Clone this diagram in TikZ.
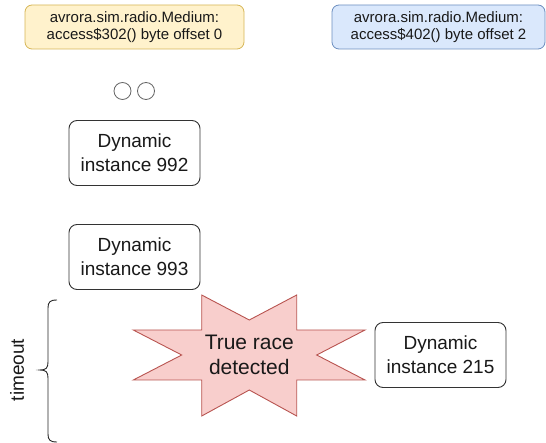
\documentclass[tikz,border=0pt]{standalone}
\usepackage{fontspec}
\setmainfont{Liberation Sans}
\begin{document}
\begin{tikzpicture}[x=1pt,y=-1pt,
  inst/.style={draw=black!80, line width=0.9pt, rounded corners=8pt, fill=white,
    minimum width=131pt, minimum height=65pt, align=center,
    font=\fontsize{19}{24}\selectfont, text=black!90, inner sep=0pt},
  method/.style={line width=0.8pt, rounded corners=7pt, minimum height=44pt,
    align=center, font=\fontsize{15}{17}\selectfont, text=black!90, inner sep=0pt},
  dot/.style={circle, draw=black!60, fill=white, line width=0.8pt,
    minimum size=17pt, inner sep=0pt}]
\useasboundingbox (0,0) rectangle (546,443);

% method headers
\node[method, draw={rgb,255:red,214;green,182;blue,86},
  fill={rgb,255:red,255;green,242;blue,204}, minimum width=219pt] (m1) at (134.5,27)
  {avrora.sim.radio.Medium:\\access\$302() byte offset 0};
\node[method, draw={rgb,255:red,108;green,142;blue,191},
  fill={rgb,255:red,218;green,232;blue,252}, minimum width=213pt] (m2) at (438.5,27)
  {avrora.sim.radio.Medium:\\access\$402() byte offset 2};

% ellipsis dots
\node[dot] (d1) at (122.5,91) {};
\node[dot] (d2) at (146,91) {};

% dynamic instances
\node[inst] (i992) at (134.5,153) {Dynamic\\instance 992};
\node[inst] (i993) at (134.5,257) {Dynamic\\instance 993};
\node[inst] (i215) at (440.5,355) {Dynamic\\instance 215};

% race star
\draw[draw={rgb,255:red,184;green,84;blue,80}, fill={rgb,255:red,248;green,206;blue,204}, line width=0.9pt, line join=miter]
  (201.7,295) -- (249.3,320) -- (296.7,295) -- (296.7,330) -- (365,330) -- (316.7,355)
  -- (365,380) -- (296.7,380) -- (296.7,416) -- (249.3,390) -- (201.7,416) -- (201.7,380)
  -- (133.3,380) -- (181.7,355) -- (133.3,330) -- (201.7,330) -- cycle;
\node[align=center, font=\fontsize{21}{25}\selectfont, text=black!90] (race) at (249.3,355) {True race\\detected};

% timeout brace
\draw[black!85, line width=0.9pt]
  (57,300) .. controls (50,300) and (48,302) .. (48,308)
  -- (48,362) .. controls (48,368) and (46,370) .. (40,370)
  .. controls (46,370) and (48,372) .. (48,378)
  -- (48,434) .. controls (48,440) and (50,442) .. (57,442);
\coordinate (bracetip) at (40,370);
\node[rotate=90, font=\fontsize{19}{23}\selectfont, text=black!90] (tout) at (17,370) {timeout};
\end{tikzpicture}
\end{document}
